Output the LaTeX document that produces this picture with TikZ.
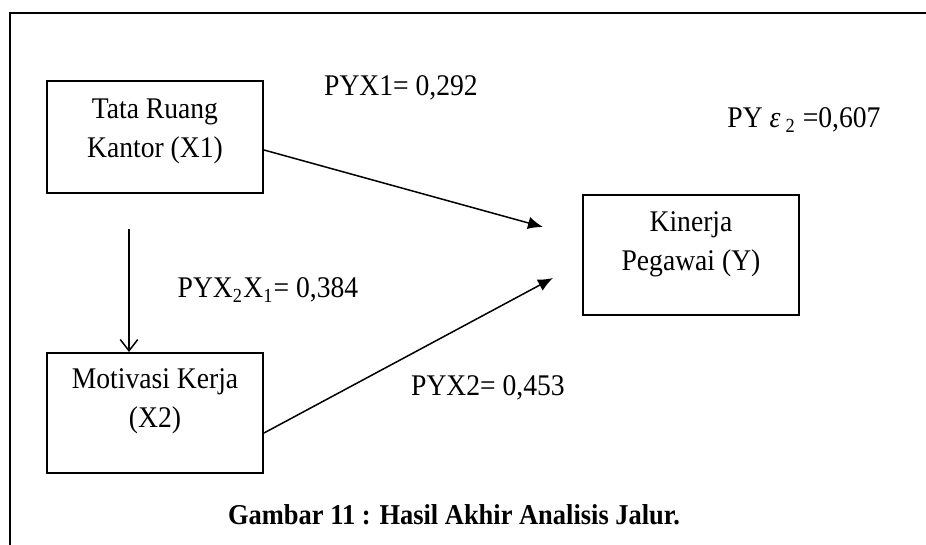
\documentclass[tikz,border=0pt]{standalone}
\usepackage{fontspec}
\setmainfont{Liberation Serif}[FakeStretch=0.92]
\usetikzlibrary{arrows.meta,positioning,calc}

\begin{document}
\begin{tikzpicture}[x=0.4pt,y=-0.4pt,font=\fontsize{12}{15.5}\selectfont,
  box/.style={draw,line width=0.8pt,minimum width=86.4pt,minimum height=48pt,inner sep=0pt},
  txt/.style={align=center,inner sep=0pt},
  arr/.style={-{Latex[length=6pt,width=5pt]},line width=0.6pt}]
    \useasboundingbox (0,0) rectangle (926,545);
    \draw[line width=0.8pt] (926,13) -- (10,13) -- (10,545);

    \node[box,minimum height=44.8pt](X1) at (155,137) {};
    \node[box](X2) at (155,413) {};
    \node[box](Y) at (691,255) {};
    \node[txt](X1t) at (155,131) {Tata Ruang\\Kantor (X1)};
    \node[txt](X2t) at (155,401) {Motivasi Kerja\\(X2)};
    \node[txt](Yt) at (691,244) {Kinerja\\Pegawai (Y)};

    \node[txt](p1) at (401,88) {PYX1= 0,292};
    \node[txt](pe) at (804,120) {PY \textit{ε}\,\textsubscript{2} =0,607};
    \node[txt](p21) at (268,290) {PYX\textsubscript{2}X\textsubscript{1}= 0,384};
    \node[txt](p2) at (488,388) {PYX2= 0,453};

    \coordinate (e1) at (543,227);
    \coordinate (e2) at (553,278);
    \coordinate (v1) at (129,229);
    \draw[arr] ([yshift=-5.2pt]X1.east) -- (e1);
    \draw[arr] ([yshift=-8pt]X2.east) -- (e2);
    \draw[-{Straight Barb[length=4.5pt,width=7pt]},line width=0.6pt] (v1) -- (v1 |- X2.north);

    \node[txt,font=\fontsize{11.5}{14}\selectfont\bfseries](cap) at (454,515) {Gambar 11 : Hasil Akhir Analisis Jalur.};
\end{tikzpicture}
\end{document}
